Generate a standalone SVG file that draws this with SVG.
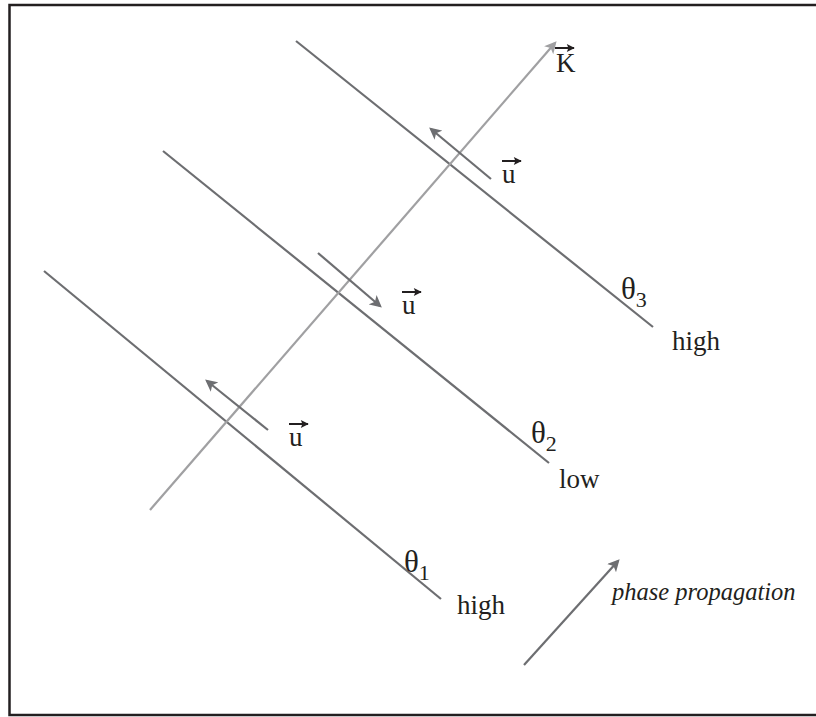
<svg xmlns="http://www.w3.org/2000/svg" width="816" height="717" viewBox="0 0 816 717">
<style>
.wave{stroke:#6d6e71;stroke-width:2.2;fill:none}
.kv{stroke:#a0a0a2;stroke-width:2.2;fill:none}
.ua{stroke:#6d6e71;stroke-width:2.2;fill:none}
.t{font-family:"Liberation Serif","Times New Roman",serif;font-size:27px;fill:#231f20}
.th{font-size:31px}
.sub{font-size:22px}
.it{font-style:italic;font-size:24.5px}
.vec{stroke:#231f20;stroke-width:2;fill:none}
</style>
<defs>
<marker id="ag" viewBox="0 0 10 10" refX="8" refY="5" markerWidth="5.5" markerHeight="5.5" orient="auto" markerUnits="strokeWidth">
<path d="M0,0 L10,5 L0,10 L2.5,5 z" fill="#6d6e71"/>
</marker>
<marker id="al" viewBox="0 0 10 10" refX="8" refY="5" markerWidth="5.5" markerHeight="5.5" orient="auto" markerUnits="strokeWidth">
<path d="M0,0 L10,5 L0,10 L2.5,5 z" fill="#a0a0a2"/>
</marker>
<marker id="ab" viewBox="0 0 10 10" refX="9" refY="5" markerWidth="5" markerHeight="4" orient="auto" markerUnits="strokeWidth">
<path d="M0,0 L10,5 L0,10 L2,5 z" fill="#231f20"/>
</marker>
</defs>
<rect x="9.5" y="5" width="820" height="710" fill="#fff" stroke="#231f20" stroke-width="2.5"/>
<g id="connectors">
<line class="wave" x1="296" y1="41" x2="653" y2="327"/>
<line class="wave" x1="163" y1="151" x2="549" y2="463"/>
<line class="wave" x1="44" y1="271" x2="441" y2="599"/>
<line class="kv" x1="150" y1="510" x2="555" y2="43" marker-end="url(#al)"/>
<line class="ua" x1="491" y1="179" x2="431" y2="129" marker-end="url(#ag)"/>
<line class="ua" x1="318" y1="253" x2="380" y2="306" marker-end="url(#ag)"/>
<line class="ua" x1="268" y1="430" x2="207" y2="381" marker-end="url(#ag)"/>
<line class="ua" x1="524" y1="665" x2="618" y2="561" marker-end="url(#ag)"/>
</g>
<g id="k-label">
<line class="vec" x1="555" y1="48" x2="574" y2="48" marker-end="url(#ab)"/>
<text class="t" x="556" y="72" font-size="22">K</text>
</g>
<g id="u-top">
<line class="vec" x1="502" y1="161" x2="521" y2="161" marker-end="url(#ab)"/>
<text class="t" x="502" y="183">u</text>
</g>
<g id="u-mid">
<line class="vec" x1="402" y1="292" x2="421" y2="292" marker-end="url(#ab)"/>
<text class="t" x="402" y="314">u</text>
</g>
<g id="u-low">
<line class="vec" x1="289" y1="424" x2="308" y2="424" marker-end="url(#ab)"/>
<text class="t" x="289" y="446">u</text>
</g>
<g id="theta3">
<text class="t th" x="621" y="299">θ<tspan class="sub" dy="8">3</tspan></text>
<text class="t" x="672" y="350">high</text>
</g>
<g id="theta2">
<text class="t th" x="531" y="443">θ<tspan class="sub" dy="8">2</tspan></text>
<text class="t" x="559" y="488">low</text>
</g>
<g id="theta1">
<text class="t th" x="404" y="572">θ<tspan class="sub" dy="8">1</tspan></text>
<text class="t" x="457" y="614">high</text>
</g>
<g id="phase">
<text class="t it" x="612" y="600">phase propagation</text>
</g>
</svg>
